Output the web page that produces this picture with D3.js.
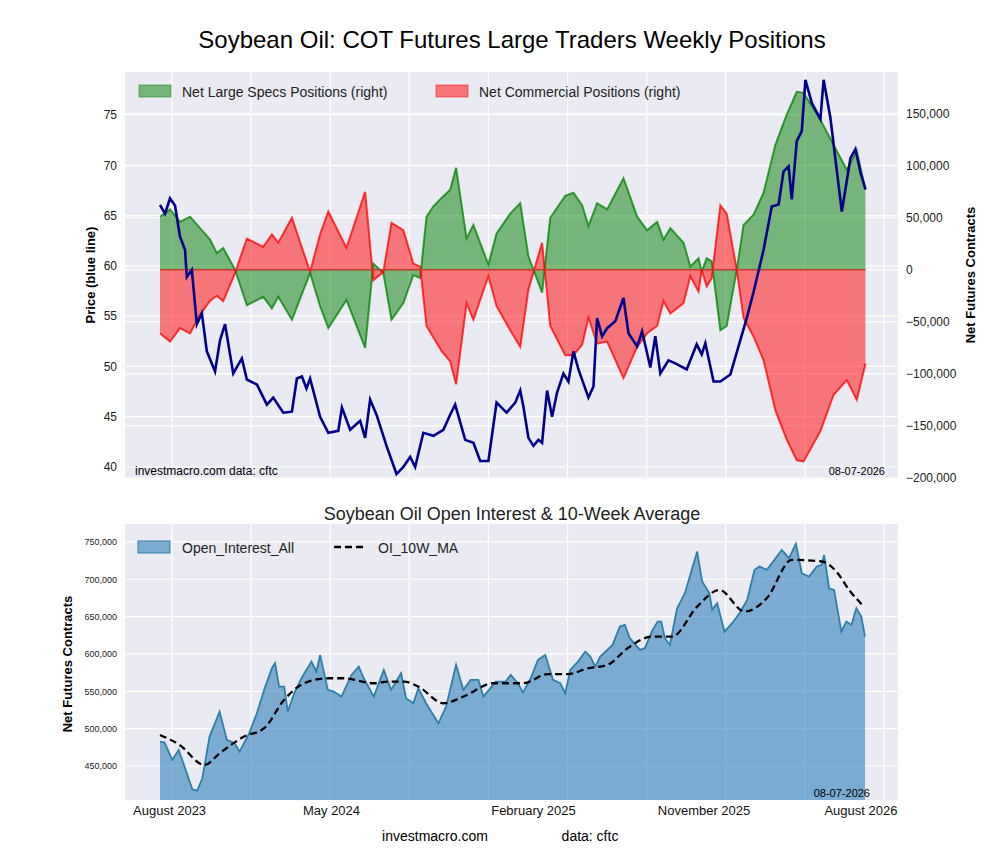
<!DOCTYPE html>
<html><head><meta charset="utf-8">
<script src="https://cdn.jsdelivr.net/npm/d3@7"></script>
<style>body{margin:0;background:#fff;font-family:"Liberation Sans",Arial,sans-serif}</style>
</head><body><svg id="c" width="1000" height="860"></svg>
<script>
// Weekly index (0 = first report, Jul 2023)
const priceWeeks = [0,1.1,2.2,3.3,4.4,5.5,5.9,7,8.1,9.2,10.3,12.1,13.2,14.3,16.1,18,19.1,21.3,23.5,24.9,27.1,29,30.1,31.2,32.2,33,35.2,37,39.2,40,41.8,44,45.1,46.2,47.6,49.8,52,53.5,55,56.1,57.9,60.1,62.3,63.8,64.9,67.1,68.9,70.4,72.2,74,76.2,78.1,79.2,79.9,81,82.1,83.2,84,85.1,86.2,87.3,88.7,89.8,90.9,92,94.2,95.3,96.1,97.2,98.3,100.1,101.9,103,104.9,106,107.8,108.9,110,111.8,113.3,115.8,118,119.1,119.9,121.7,123.2,125.4,129,130.5,132.7,134.5,136,137.1,138.2,138.9,140,141.1,141.9,143.3,145.2,145.9,147.4,149.9,151.8,152.9,154,155.1];
const price = [66.05,65.2,66.7,66,62.9,61.6,58.9,59.6,54.2,55.3,51.5,49.5,52.6,54.2,49.3,50.8,48.7,48.2,46.2,46.9,45.4,45.5,48.8,49,47.8,48.8,45,43.4,43.6,45.9,43.7,44.6,42.9,46.7,45.2,42.1,39.3,40,41,40,43.4,43.1,43.7,45.2,46.2,42.7,42.4,40.6,40.6,46.4,45.4,46.4,47.6,46,42.9,42.1,42.7,42.4,47.6,45,47.4,49.3,48.5,51.5,49.7,46.9,48,54.8,53,53.8,54.5,56.8,53.3,52,53.5,49.9,53,49.3,50.6,50.3,49.7,52.2,51.2,52.3,48.5,48.5,49.2,54.8,57.4,61.6,65.9,66.1,69.4,69.9,66.6,72.4,73.4,78.5,76.2,74.6,78.5,74.7,65.4,70.7,71.6,69.3,67.6];

const posWeeks = [0,2.2,4.4,6.6,8.8,11,12.5,13.9,16.5,19.1,22.7,24.6,26,29,33,35.2,37,41,45.1,46.9,49.1,50.9,53.5,55.7,57.2,58.6,60.1,61.9,63.8,65.1,67.4,68.9,72.2,74,77,79.2,81,84,85.8,89.1,90.9,92.8,94.2,96.1,98.3,101.9,104.9,107.1,109.3,110.7,112.2,115.1,116.6,118.4,119.1,120.2,121.3,123.2,124.6,126.8,128.3,130.5,132.7,135.3,137.8,140,141.5,145.2,148.1,151,153.2,155.1];
const specs = [51,58,46,51,40,29,16,21,0,-34,-26,-37,-26,-48,-3,-35,-56,-29,-75,6,-3,-48,-32,-5,-8,51,61,69,77,98,30,43,5,35,54,64,13,-22,50,71,74,62,42,64,58,88,51,38,46,29,40,26,3,11,-2,11,8,-58,-54,0,43,53,74,120,149,171,170,144,120,96,114,77].map(v => v * 1000);
const commercial = [-61,-69,-56,-61,-43,-30,-25,-30,-3,30,22,34,26,50,-2,34,56,21,75,-10,-2,45,38,6,3,-54,-65,-78,-88,-110,-32,-48,-6,-35,-58,-74,-19,26,-54,-82,-82,-72,-46,-71,-69,-104,-74,-61,-54,-30,-42,-32,-6,-21,0,-16,-8,62,54,0,-46,-64,-87,-135,-163,-183,-184,-155,-120,-106,-125,-90].map(v => v * 1000);

const oiWeeks = [0,1,2.7,4.1,5.4,7.1,8.2,9.3,10.9,13.1,14.7,16.4,17.5,19.6,21.3,22.9,24.6,25.3,26.2,27.3,28.1,29.5,31.1,33.3,34.4,35.2,36.9,38.2,39.9,42.1,43.7,44.8,47,49.2,50.8,53,54.1,55.7,56.8,58.5,61.2,62.9,65.1,66.7,68.3,70,71.1,73.8,76,77.1,78.7,79.8,81.5,83.1,84.7,86.4,88,89.1,90.2,91.9,93.5,94.6,95.7,96.8,99.5,101.1,102.2,103.3,105.5,106.6,108.3,109.4,110.2,111,112.1,113.7,115.4,118.1,119.2,120.8,121.4,122.5,124.1,125.8,127.4,129.1,130.7,131.8,133.4,135.1,136.7,138.3,139.8,141.1,142.7,144.4,145.5,146,147.1,148.2,149.8,150.9,152,153.1,154.2,155];
const openInterest = [482.6,481.3,458.1,471.5,449.2,418.8,417,433.6,489.4,522.9,484.9,480.5,469.3,493.8,520.6,551.9,580.9,587.6,556.3,556.3,522.9,547.4,567.5,589.8,576.4,598.7,551.9,549.6,542.9,571.9,583.1,567.5,542.9,578.6,551.9,574.2,540.7,534,554.1,534,507.2,529.6,585.4,551.9,565.3,565.3,542.9,563,563,571.9,560.8,548.3,567.5,592,598.7,565.3,560.8,547.4,578.6,589.8,603.2,596.5,583.1,596.5,612.1,636.7,638.9,621.1,605.4,607.7,632.2,643.4,643.4,621.1,612.1,661.2,681.3,737.1,696.9,681.3,659,667.9,630,641.2,654.6,672.4,712.6,717.1,712.6,726,739.4,728.2,747.4,708.1,703.6,717.1,719.3,732.7,688,685.7,630,643.4,638.9,661.2,650,623.2].map(v => v * 1000);
const maWeeks = [0,4.3,9.8,13.1,18.5,22.9,27.3,31.7,37.1,40.4,47,50.3,53.6,56.8,62.3,66.7,73.3,79.8,85.3,89.7,94,98.4,102.8,108.3,112.6,118.1,123,128.5,133.4,138.9,145.5,148.7,151.5,154.4];
const oiMA = [491.6,478.2,451.4,467,489.4,500.6,538.6,560.8,567.5,567.5,560.8,563,563,556.3,534,542.9,560.8,560.8,573.1,573.1,580.7,585.4,607.7,623.3,623.3,663.4,685.7,656.8,674.6,726,723.8,710.4,685.7,665.7].map(v => v * 1000);

const xTickWeeks = [2, 37.6, 82, 119.5, 154];
const xTickLabels = ['August 2023', 'May 2024', 'February 2025', 'November 2025', 'August 2026'];
const gridWeeks = [2.6, 20, 37.4, 54.8, 72.2, 89.6, 107, 124.4, 141.8, 159.2];
const priceTicks = [40, 45, 50, 55, 60, 65, 70, 75];
const posTicks = [-200000, -150000, -100000, -50000, 0, 50000, 100000, 150000];
const oiTicks = [450000, 500000, 550000, 600000, 650000, 700000, 750000];

const svg = d3.select('#c');
const BG = '#eaeaf2';
const L = 125, R = 898;
const x = d3.scaleLinear().domain([0, 155]).range([160, 865]);

// Titles
svg.append('text').attr('x', 512).attr('y', 48).attr('text-anchor', 'middle')
    .attr('font-size', 24).text('Soybean Oil: COT Futures Large Traders Weekly Positions');

// ---------- top panel ----------
const T1 = 72, B1 = 478;
const yP = d3.scaleLinear().domain([40 - 11 / 10.06, 75 + 43 / 10.06]).range([B1, T1]);
const yN = d3.scaleLinear().domain([-200000, 190000]).range([B1, T1]);
svg.append('rect').attr('x', L).attr('y', T1).attr('width', R - L).attr('height', B1 - T1).attr('fill', BG);
const clip1 = svg.append('clipPath').attr('id', 'clip1').append('rect')
    .attr('x', L).attr('y', T1).attr('width', R - L).attr('height', B1 - T1);
const g1 = svg.append('g').attr('clip-path', 'url(#clip1)');
g1.selectAll('.vg').data(gridWeeks).enter().append('line')
    .attr('x1', d => x(d)).attr('x2', d => x(d)).attr('y1', T1).attr('y2', B1)
    .attr('stroke', '#fff').attr('stroke-width', 1.2);
g1.selectAll('.hg').data(priceTicks).enter().append('line')
    .attr('x1', L).attr('x2', R).attr('y1', d => yP(d)).attr('y2', d => yP(d))
    .attr('stroke', '#fff').attr('stroke-width', 1.2);
g1.selectAll('.hg2').data(posTicks).enter().append('line')
    .attr('x1', L).attr('x2', R).attr('y1', d => yN(d)).attr('y2', d => yN(d))
    .attr('stroke', '#fff').attr('stroke-width', 1.2);

function posArea(vals, fill, stroke) {
    const pts = posWeeks.map((w, i) => [w, vals[i]]);
    g1.append('path').datum(pts)
        .attr('d', d3.area().x(d => x(d[0])).y0(yN(0)).y1(d => yN(d[1])))
        .attr('fill', fill).attr('fill-opacity', 0.5);
    g1.append('path').datum(pts)
        .attr('d', d3.line().x(d => x(d[0])).y(d => yN(d[1])))
        .attr('fill', 'none').attr('stroke', stroke).attr('stroke-width', 2).attr('stroke-opacity', 0.75);
}
posArea(specs, '#008000', '#008000');
posArea(commercial, '#ff0000', '#ff0000');
g1.append('line').attr('x1', x(0)).attr('x2', x(155.1)).attr('y1', yN(0)).attr('y2', yN(0))
    .attr('stroke', '#c0392b').attr('stroke-width', 1.5);
g1.append('path').datum(priceWeeks.map((w, i) => [w, price[i]]))
    .attr('d', d3.line().x(d => x(d[0])).y(d => yP(d[1])))
    .attr('fill', 'none').attr('stroke', '#00008b').attr('stroke-width', 2.6);

svg.append('g').attr('transform', `translate(${L},0)`)
    .call(d3.axisLeft(yP).tickValues(priceTicks).tickSize(0).tickPadding(8))
    .call(g => g.select('.domain').remove())
    .selectAll('text').attr('font-size', 12).attr('fill', '#222');
svg.append('g').attr('transform', `translate(${R},0)`)
    .call(d3.axisRight(yN).tickValues(posTicks).tickSize(0).tickPadding(8))
    .call(g => g.select('.domain').remove())
    .selectAll('text').attr('font-size', 12).attr('fill', '#222');
svg.append('text').attr('transform', 'translate(95,275) rotate(-90)').attr('text-anchor', 'middle')
    .attr('font-size', 13).attr('font-weight', 'bold').text('Price (blue line)');
svg.append('text').attr('transform', 'translate(975,275) rotate(-90)').attr('text-anchor', 'middle')
    .attr('font-size', 13).attr('font-weight', 'bold').text('Net Futures Contracts');
svg.append('text').attr('x', 135).attr('y', 475).attr('font-size', 12).text('investmacro.com    data: cftc');
svg.append('text').attr('x', 885).attr('y', 475).attr('text-anchor', 'end').attr('font-size', 11).text('08-07-2026');

// legend top
const leg1 = [
    {label: 'Net Large Specs Positions (right)', fill: '#008000', x: 139},
    {label: 'Net Commercial Positions (right)', fill: '#ff0000', x: 436}
];
leg1.forEach(d => {
    svg.append('rect').attr('x', d.x).attr('y', 85).attr('width', 32).attr('height', 12)
        .attr('fill', d.fill).attr('fill-opacity', 0.5).attr('stroke', d.fill).attr('stroke-opacity', 0.5);
    svg.append('text').attr('x', d.x + 43).attr('y', 97).attr('font-size', 14).attr('fill', '#222').text(d.label);
});

// ---------- bottom panel ----------
const T2 = 524, B2 = 800;
svg.append('text').attr('x', 512).attr('y', 520).attr('text-anchor', 'middle')
    .attr('font-size', 18).attr('fill', '#222').text('Soybean Oil Open Interest & 10-Week Average');
const yO = d3.scaleLinear().domain([404500, 774000]).range([B2, T2]);
svg.append('rect').attr('x', L).attr('y', T2).attr('width', R - L).attr('height', B2 - T2).attr('fill', BG);
svg.append('clipPath').attr('id', 'clip2').append('rect')
    .attr('x', L).attr('y', T2).attr('width', R - L).attr('height', B2 - T2);
const g2 = svg.append('g').attr('clip-path', 'url(#clip2)');
g2.selectAll('.vg').data(gridWeeks).enter().append('line')
    .attr('x1', d => x(d)).attr('x2', d => x(d)).attr('y1', T2).attr('y2', B2)
    .attr('stroke', '#fff').attr('stroke-width', 1.2);
g2.selectAll('.hg').data(oiTicks).enter().append('line')
    .attr('x1', L).attr('x2', R).attr('y1', d => yO(d)).attr('y2', d => yO(d))
    .attr('stroke', '#fff').attr('stroke-width', 1.2);
const oiPts = oiWeeks.map((w, i) => [w, openInterest[i]]);
g2.append('path').datum(oiPts)
    .attr('d', d3.area().x(d => x(d[0])).y0(B2 + 5).y1(d => yO(d[1])))
    .attr('fill', '#1f77b4').attr('fill-opacity', 0.55);
g2.append('path').datum(oiPts)
    .attr('d', d3.line().x(d => x(d[0])).y(d => yO(d[1])))
    .attr('fill', 'none').attr('stroke', '#2e7fa8').attr('stroke-width', 1.8);
g2.append('path').datum(maWeeks.map((w, i) => [w, oiMA[i]]))
    .attr('d', d3.line().curve(d3.curveMonotoneX).x(d => x(d[0])).y(d => yO(d[1])))
    .attr('fill', 'none').attr('stroke', '#000').attr('stroke-width', 2.3).attr('stroke-dasharray', '7,4');

svg.append('g').attr('transform', `translate(${L},0)`)
    .call(d3.axisLeft(yO).tickValues(oiTicks).tickSize(0).tickPadding(8))
    .call(g => g.select('.domain').remove())
    .selectAll('text').attr('font-size', 9).attr('fill', '#222');
svg.append('g').attr('transform', `translate(0,${B2})`)
    .call(d3.axisBottom(x).tickValues(xTickWeeks).tickFormat((d, i) => xTickLabels[i]).tickSize(0).tickPadding(6))
    .call(g => g.select('.domain').remove())
    .selectAll('text').attr('font-size', 13).attr('fill', '#111');
svg.append('text').attr('transform', 'translate(72,664) rotate(-90)').attr('text-anchor', 'middle')
    .attr('font-size', 13).attr('font-weight', 'bold').text('Net Futures Contracts');
svg.append('text').attr('x', 870).attr('y', 797).attr('text-anchor', 'end').attr('font-size', 11).text('08-07-2026');

// legend bottom
svg.append('rect').attr('x', 138).attr('y', 541).attr('width', 32).attr('height', 12)
    .attr('fill', '#1f77b4').attr('fill-opacity', 0.55).attr('stroke', '#2e7fa8');
svg.append('text').attr('x', 182).attr('y', 553).attr('font-size', 14).attr('fill', '#222').text('Open_Interest_All');
svg.append('line').attr('x1', 334).attr('x2', 366).attr('y1', 547).attr('y2', 547)
    .attr('stroke', '#000').attr('stroke-width', 2.3).attr('stroke-dasharray', '7,4');
svg.append('text').attr('x', 378).attr('y', 553).attr('font-size', 14).attr('fill', '#222').text('OI_10W_MA');

// footer
svg.append('text').attr('x', 435).attr('y', 841).attr('text-anchor', 'middle').attr('font-size', 14).text('investmacro.com');
svg.append('text').attr('x', 590).attr('y', 841).attr('text-anchor', 'middle').attr('font-size', 14).text('data: cftc');
</script></body></html>
